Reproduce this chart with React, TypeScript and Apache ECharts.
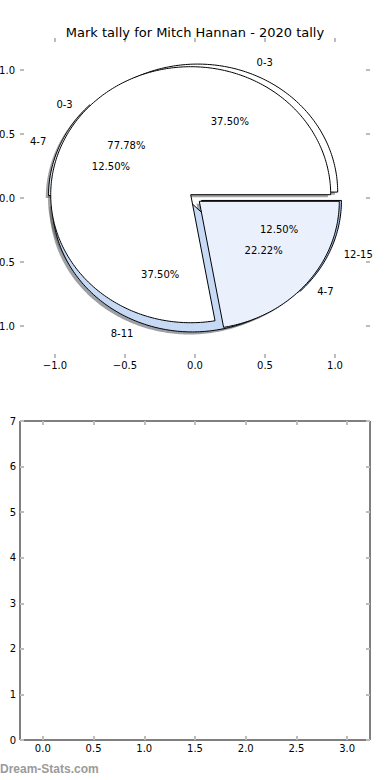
import React, { useEffect, useRef } from 'react';
import * as echarts from 'echarts';

const titleText = 'Mark tally for Mitch Hannan - 2020 tally';
const watermarkText = 'Dream-Stats.com';

// First pie (drawn underneath)
const outerLabels = ['0-3', '4-7', '8-11', '12-15'];
const outerValues = [3, 1, 3, 1];
const outerExplode = [0.05, 0.05, 0.05, 0.05];

// Second pie drawn on top
const innerLabels = ['0-3', '4-7'];
const innerValues = [7, 2];
const innerExplode = [0.04, 0.04];

const bandColors: Record<string, string> = {
  '0-3': '#ffffff',
  '4-7': '#ebf1fc',
  '8-11': '#c6d9f5',
  '12-15': '#a3c0ec',
};

const pieTicks = [-1, -0.5, 0, 0.5, 1];
const barXTicks = [0, 0.5, 1, 1.5, 2, 2.5, 3];

const FONT = 'DejaVu Sans';
const TICK_COLOR = '#bdbdbd';

type Wedge = { lab: string; t1: number; t2: number; cx: number; cy: number; mid: number; pct: number; ex: number };

function buildWedges(labels: string[], values: number[], explode: number[]): Wedge[] {
  const total = values.reduce((a, b) => a + b, 0);
  let start = 0;
  return labels.map((lab, i) => {
    const sweep = (values[i] / total) * 360;
    const t1 = start;
    const t2 = start + sweep;
    start = t2;
    const mid = ((t1 + t2) / 2) * Math.PI / 180;
    return {
      lab, t1, t2, mid, ex: explode[i],
      cx: explode[i] * Math.cos(mid),
      cy: explode[i] * Math.sin(mid),
      pct: (values[i] / total) * 100,
    };
  });
}

function wedgePoints(api: any, w: Wedge, dx: number, dy: number) {
  const pts: number[][] = [api.coord([w.cx + dx, w.cy + dy])];
  const n = Math.max(2, Math.ceil(w.t2 - w.t1));
  for (let k = 0; k <= n; k++) {
    const a = ((w.t1 + ((w.t2 - w.t1) * k) / n) * Math.PI) / 180;
    pts.push(api.coord([w.cx + dx + Math.cos(a), w.cy + dy + Math.sin(a)]));
  }
  return pts;
}

function shadowColor(hex: string) {
  const r = parseInt(hex.slice(1, 3), 16);
  const g = parseInt(hex.slice(3, 5), 16);
  const b = parseInt(hex.slice(5, 7), 16);
  return `rgba(${Math.round(r * 0.3)},${Math.round(g * 0.3)},${Math.round(b * 0.3)},0.5)`;
}

function fmtSigned(v: number) {
  return (v < 0 ? '\u2212' : '') + Math.abs(v).toFixed(1);
}

export default function App() {
  const ref = useRef<HTMLDivElement>(null);

  useEffect(() => {
    if (!ref.current) return;
    const chart = echarts.init(ref.current, undefined, { renderer: 'svg' });
    const pies = [
      buildWedges(outerLabels, outerValues, outerExplode),
      buildWedges(innerLabels, innerValues, innerExplode),
    ];

    const renderItem = (_params: any, api: any) => {
      const children: any[] = [];
      pies.forEach((pie) =>
        pie.forEach((w) => {
          const col = shadowColor(bandColors[w.lab]);
          children.push({
            type: 'polygon',
            shape: { points: wedgePoints(api, w, -0.02, -0.02) },
            style: { fill: col, stroke: 'none' },
          });
        })
      );
      pies.forEach((pie) =>
        pie.forEach((w) => {
          children.push({
            type: 'polygon',
            shape: { points: wedgePoints(api, w, 0, 0) },
            style: { fill: bandColors[w.lab], stroke: '#000', lineWidth: 1, lineJoin: 'miter' },
          });
        })
      );
      pies.forEach((pie) =>
        pie.forEach((w) => {
          const lx = w.cx + 1.1 * Math.cos(w.mid);
          const ly = w.cy + 1.1 * Math.sin(w.mid);
          const lp = api.coord([lx, ly]);
          children.push({
            type: 'text',
            x: lp[0],
            y: lp[1],
            style: {
              text: w.lab,
              fill: '#000',
              fontSize: 10,
              fontFamily: FONT,
              align: lx > 0 ? 'left' : 'right',
              verticalAlign: 'middle',
            },
          });
          const px = w.cx + 0.6 * Math.cos(w.mid);
          const py = w.cy + 0.6 * Math.sin(w.mid);
          const pp = api.coord([px, py]);
          children.push({
            type: 'text',
            x: pp[0],
            y: pp[1],
            style: {
              text: w.pct.toFixed(2) + '%',
              fill: '#000',
              fontSize: 10,
              fontFamily: FONT,
              align: 'center',
              verticalAlign: 'middle',
            },
          });
        })
      );
      return { type: 'group', children };
    };

    const tickStyle = { lineStyle: { color: TICK_COLOR, width: 2 } };
    const labelStyle = { color: '#000', fontSize: 10, fontFamily: FONT };
    const noLine = { show: false, onZero: false };

    chart.setOption({
      animation: false,
      backgroundColor: '#ffffff',
      textStyle: { fontFamily: FONT },
      title: {
        text: titleText,
        left: 'center',
        top: 21,
        textStyle: { fontSize: 13, fontWeight: 'normal', fontFamily: FONT, color: '#000' },
      },
      grid: [
        { left: 20, top: 38, width: 350, height: 320, show: false, containLabel: false, outerBoundsMode: 'none' },
        { left: 20, top: 421, width: 350, height: 319, show: true, borderColor: '#000', borderWidth: 1, backgroundColor: 'transparent', containLabel: false, outerBoundsMode: 'none' },
      ],
      xAxis: [
        {
          gridIndex: 0, type: 'value', min: -1.25, max: 1.25, position: 'bottom',
          axisLine: noLine, splitLine: { show: false },
          axisTick: { show: true, inside: true, length: 4, customValues: pieTicks, ...tickStyle },
          axisLabel: { show: true, customValues: pieTicks, formatter: fmtSigned, margin: 2, ...labelStyle },
        },
        {
          gridIndex: 0, type: 'value', min: -1.25, max: 1.25, position: 'top',
          axisLine: noLine, splitLine: { show: false },
          axisTick: { show: true, inside: true, length: 4, customValues: pieTicks, ...tickStyle },
          axisLabel: { show: false },
        },
        {
          gridIndex: 1, type: 'value', min: -0.225, max: 3.225, position: 'bottom',
          axisLine: noLine, splitLine: { show: false },
          axisTick: { show: true, inside: true, length: 4, customValues: barXTicks, ...tickStyle },
          axisLabel: { show: true, customValues: barXTicks, formatter: (v: number) => v.toFixed(1), margin: 3, ...labelStyle },
        },
        {
          gridIndex: 1, type: 'value', min: -0.225, max: 3.225, position: 'top',
          axisLine: noLine, splitLine: { show: false },
          axisTick: { show: true, inside: true, length: 4, customValues: barXTicks, ...tickStyle },
          axisLabel: { show: false },
        },
      ],
      yAxis: [
        {
          gridIndex: 0, type: 'value', min: -1.25, max: 1.25, position: 'left',
          axisLine: noLine, splitLine: { show: false },
          axisTick: { show: true, inside: true, length: 4, customValues: pieTicks, ...tickStyle },
          axisLabel: { show: true, customValues: pieTicks, formatter: fmtSigned, margin: 5, ...labelStyle },
        },
        {
          gridIndex: 0, type: 'value', min: -1.25, max: 1.25, position: 'right',
          axisLine: noLine, splitLine: { show: false },
          axisTick: { show: true, inside: true, length: 4, customValues: pieTicks, ...tickStyle },
          axisLabel: { show: false },
        },
        {
          gridIndex: 1, type: 'value', min: 0, max: 7, interval: 1, position: 'left',
          axisLine: noLine, splitLine: { show: false },
          axisTick: { show: true, inside: true, length: 4, ...tickStyle },
          axisLabel: { show: true, margin: 4, ...labelStyle },
        },
        {
          gridIndex: 1, type: 'value', min: 0, max: 7, interval: 1, position: 'right',
          axisLine: noLine, splitLine: { show: false },
          axisTick: { show: true, inside: true, length: 4, ...tickStyle },
          axisLabel: { show: false },
        },
      ],
      series: [
        {
          type: 'custom',
          xAxisIndex: 0,
          yAxisIndex: 0,
          clip: false,
          silent: true,
          renderItem,
          data: [[0, 0]],
        },
        {
          type: 'line',
          xAxisIndex: 2,
          yAxisIndex: 2,
          silent: true,
          data: [],
        },
      ],
      graphic: [
        {
          type: 'text',
          left: 0,
          top: 763,
          style: {
            text: watermarkText,
            fill: '#9a9a9a',
            font: 'bold 12px "Liberation Sans"',
          },
        },
      ],
    });
    return () => chart.dispose();
  }, []);

  return (
    <div
      ref={ref}
      style={{ position: 'fixed', left: 0, top: 0, width: 390, height: 780, background: '#fff' }}
    />
  );
}
